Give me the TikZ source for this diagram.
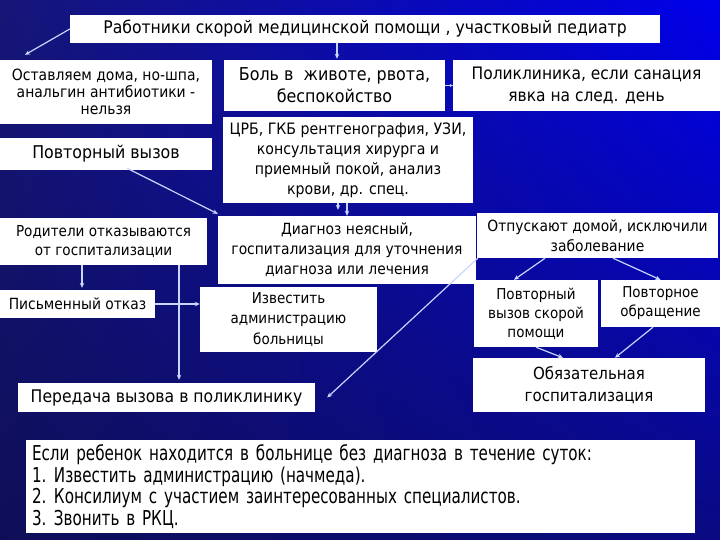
\documentclass[tikz,border=0pt]{standalone}
\usepackage{fontspec}
\setmainfont{DejaVu Sans}[FakeStretch=0.9]
\newfontfamily\narrowf{DejaVu Sans}[FakeStretch=0.74]
\usetikzlibrary{arrows.meta,shadings}
\definecolor{bgA}{RGB}{22,22,120}
\definecolor{bgB}{RGB}{0,0,235}
\definecolor{bgC}{RGB}{14,14,88}
\definecolor{bgD}{RGB}{10,10,130}
\definecolor{arrc}{RGB}{200,215,255}
\newcommand{\fs}[2]{\fontsize{#1}{#2}\selectfont}
\begin{document}
\begin{tikzpicture}[x=1pt,y=-1pt,
  box/.style={fill=white, draw=none, inner sep=0pt, align=center, text=black},
  arr/.style={draw=arrc, line width=1.2pt, -{Stealth[length=5pt,width=4.5pt]}}]
\shade[upper left=bgA, upper right=bgB, lower left=bgC, lower right=bgD] (0,0) rectangle (720,540);
\useasboundingbox (0,0) rectangle (720,540);

\node[box, minimum width=590pt, minimum height=28pt, font=\fs{17.4}{20}] (top) at (365,29)
  {Работники скорой медицинской помощи , участковый педиатр};
\node[box, minimum width=212pt, minimum height=64pt, font=\fs{15.5}{17}] (stay) at (106,92)
  {Оставляем дома, но-шпа,\\анальгин антибиотики -\\нельзя};
\node[box, minimum width=221pt, minimum height=51pt, font=\fs{17.7}{22}] (pain) at (334.5,85.5)
  {Боль в \ животе, рвота,\\беспокойство};
\node[box, minimum width=267pt, minimum height=51pt, font=\fs{17.2}{22}] (poly) at (586.5,85.5)
  {Поликлиника, если санация\\явка на след. день};
\node[box, minimum width=250pt, minimum height=86pt, font=\fs{15.7}{20}] (crb) at (348,160)
  {ЦРБ, ГКБ рентгенография, УЗИ,\\консультация хирурга и\\приемный покой, анализ\\крови, др. спец.};
\node[box, minimum width=212pt, minimum height=32pt, font=\fs{17.6}{20}] (rep) at (106,154)
  {Повторный вызов};
\node[box, minimum width=207pt, minimum height=47pt, font=\fs{15.1}{19}] (par) at (103.5,241.5)
  {Родители отказываются\\от госпитализации};
\node[box, minimum width=258pt, minimum height=68pt, font=\fs{15.4}{20}] (diag) at (347,250)
  {Диагноз неясный,\\госпитализация для уточнения\\диагноза или лечения};
\node[box, minimum width=177pt, minimum height=65pt, font=\fs{15}{20.5}] (notify) at (288.5,319.5)
  {Известить\\администрацию\\больницы};
\node[box, minimum width=155pt, minimum height=28pt, font=\fs{15.4}{19}] (written) at (77.5,304)
  {Письменный отказ};
\node[box, minimum width=297pt, minimum height=29pt, font=\fs{17.4}{20}] (transfer) at (166.5,397.5)
  {Передача вызова в поликлинику};
\node[box, minimum width=241pt, minimum height=45pt, font=\fs{15.4}{20}] (release) at (597.5,235.5)
  {Отпускают домой, исключили\\заболевание};
\node[box, minimum width=124pt, minimum height=67pt, font=\fs{15}{19}] (ambul) at (536,313.5)
  {Повторный\\вызов скорой\\помощи};
\node[box, minimum width=119pt, minimum height=47pt, font=\fs{15}{19}] (again) at (660.5,303.5)
  {Повторное\\обращение};
\node[box, minimum width=232pt, minimum height=54pt, font=\fs{16.7}{22}] (mand) at (589,385)
  {Обязательная\\госпитализация};
\node[box, minimum width=669pt, minimum height=93pt, text width=657pt, align=left,
      font=\narrowf\fs{20.5}{21.5}] (note) at (360.5,486.5)
  {Если ребенок находится в больнице без диагноза в течение суток:\\
   \makebox[22pt][l]{1.}Известить администрацию (начмеда).\\
   \makebox[22pt][l]{2.}Консилиум с участием заинтересованных специалистов.\\
   \makebox[22pt][l]{3.}Звонить в РКЦ.};

\draw[arr] (top.west) -- ([xshift=-81pt,yshift=5pt]stay.north);
\draw[arr] ([xshift=-28pt]top.south) -- ([xshift=2.5pt,yshift=1pt]pain.north);
\draw[draw=arrc, line width=1pt, -{Stealth[length=3pt,width=3pt]}] (pain.east) -- (poly.west);
\draw[arr] ([xshift=21pt,yshift=2pt]rep.south) -- ([yshift=2pt]diag.north west);
\draw[arr] ([xshift=-10pt]crb.south) -- ([xshift=-9pt,yshift=6pt]diag.north);
\draw[arr] ([xshift=-1pt]crb.south) -- (diag.north);
\draw[arr] ([xshift=-21.5pt]par.south) -- ([xshift=4.5pt,yshift=2pt]written.north);
\draw[arr] ([xshift=75.5pt]par.south) -- ([xshift=12.5pt,yshift=3pt]transfer.north);
\draw[arr] (written.east) -- (written.east -| notify.west);
\draw[arr] ([xshift=1pt]release.south west) -- ([xshift=12pt]transfer.east);
\draw[arr] ([xshift=-52.5pt]release.south) -- ([xshift=-22pt]ambul.north);
\draw[arr] ([xshift=15.5pt]release.south) -- (again.north);
\draw[arr] (ambul.south) -- ([xshift=-26pt]mand.north);
\draw[arr] ([xshift=-7.5pt]again.south) -- ([xshift=26pt]mand.north);
\end{tikzpicture}
\end{document}
